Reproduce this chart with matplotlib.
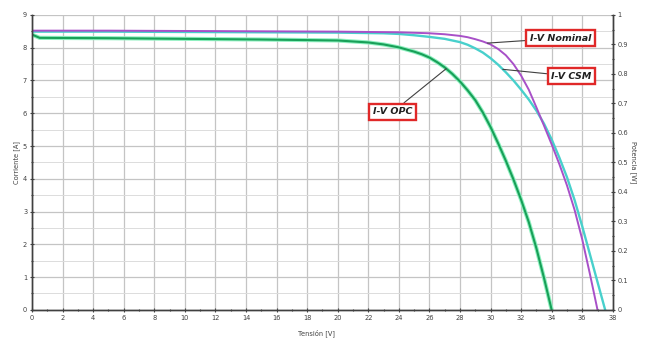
import matplotlib
matplotlib.use("Agg")
import matplotlib.pyplot as plt
from matplotlib.ticker import MultipleLocator

# Data
v_nominal = [0, 5, 10, 15, 20, 24, 26, 27, 28, 28.5, 29, 29.5, 30, 30.5, 31, 31.5,
             32, 32.5, 33, 33.5, 34, 34.5, 35, 35.5, 36, 36.5, 37]
i_nominal = [8.52, 8.52, 8.51, 8.50, 8.49, 8.47, 8.44, 8.41, 8.36, 8.32, 8.26, 8.19,
             8.1, 7.96, 7.77, 7.5, 7.15, 6.72, 6.18, 5.62, 5.05, 4.45, 3.8, 3.05, 2.15, 1.1, 0]

v_csm = [0, 5, 10, 15, 20, 23, 24, 25, 26, 27, 28, 28.5, 29, 29.5, 30, 30.5, 31, 31.5,
         32, 32.5, 33, 33.5, 34, 34.5, 35, 35.5, 36, 36.5, 37, 37.5]
i_csm = [8.49, 8.49, 8.48, 8.47, 8.46, 8.44, 8.42, 8.38, 8.33, 8.27, 8.17, 8.09, 7.98,
         7.85, 7.68, 7.48, 7.25, 7.0, 6.72, 6.42, 6.08, 5.68, 5.2, 4.65, 4.05, 3.35,
         2.55, 1.7, 0.85, 0]

v_opc = [0, 0.5, 5, 10, 15, 20, 22, 23, 24, 25, 25.5, 26, 26.5, 27, 27.5, 28, 28.5,
         29, 29.5, 30, 30.5, 31, 31.5, 32, 32.5, 33, 33.5, 34]
i_opc = [8.4, 8.3, 8.29, 8.27, 8.25, 8.22, 8.16, 8.1, 8.01, 7.88, 7.8, 7.7, 7.56, 7.4,
         7.2, 6.97, 6.7, 6.4, 6.02, 5.58, 5.08, 4.55, 3.98, 3.36, 2.68, 1.88, 0.97, 0]

x_ticks = list(range(0, 39, 2))
y_ticks = list(range(0, 10))
y2_ticks = [0, 0.1, 0.2, 0.3, 0.4, 0.5, 0.6, 0.7, 0.8, 0.9, 1]
y2_labels = ["0", "0.1", "0.2", "0.3", "0.4", "0.5", "0.6", "0.7", "0.8", "0.9", "1"]

fig = plt.figure(figsize=(6.54, 3.47), dpi=100)
ax = fig.add_axes([0.049, 0.107, 0.888, 0.850])

ax.set_xlim(0, 38)
ax.set_ylim(0, 9)
ax.set_xticks(x_ticks)
ax.set_yticks(y_ticks)
ax.xaxis.set_minor_locator(MultipleLocator(1))
ax.yaxis.set_minor_locator(MultipleLocator(0.5))
ax.grid(which="major", color="#c4c4c4", lw=0.9)
ax.grid(which="minor", axis="y", color="#dcdcdc", lw=0.7)
ax.set_axisbelow(True)

for s in ax.spines.values():
    s.set_color("#404040")
    s.set_linewidth(1.0)
ax.spines["top"].set_visible(False)

ax.tick_params(axis="both", which="both", direction="inout", colors="#404040",
               labelsize=4.8, length=3, width=0.8, pad=2)
ax.tick_params(which="minor", length=2)

# Curves
ax.plot(v_opc, i_opc, color="#8ff0c0", lw=3.0, solid_capstyle="round", solid_joinstyle="round")
ax.plot(v_opc, i_opc, color="#18a058", lw=1.5, solid_joinstyle="round")
ax.plot(v_csm, i_csm, color="#48d0cc", lw=1.7, solid_joinstyle="round")
ax.plot(v_nominal, i_nominal, color="#a850c8", lw=1.4, solid_joinstyle="round")

ax.set_xlabel("Tensión [V]", fontsize=4.8, color="#404040", labelpad=1)
ax.xaxis.set_label_coords(0.49, -0.065)
ax.set_ylabel("Corriente [A]", fontsize=4.8, color="#404040", labelpad=2)

ax2 = ax.twinx()
ax2.set_position([0.049, 0.107, 0.888, 0.850])
ax2.set_ylim(0, 1)
ax2.set_yticks(y2_ticks)
ax2.set_yticklabels(y2_labels)
ax2.yaxis.set_minor_locator(MultipleLocator(0.05))
ax2.tick_params(axis="y", which="both", direction="inout", colors="#404040",
                labelsize=4.8, length=3, width=0.8, pad=2)
ax2.tick_params(which="minor", length=2)
for s in ax2.spines.values():
    s.set_color("#404040")
    s.set_linewidth(1.0)
ax2.spines["top"].set_visible(False)
ax2.set_ylabel("Potencia [W]", fontsize=4.8, color="#404040", rotation=270, labelpad=6)

box = dict(boxstyle="square,pad=0.4", fc="white", ec="#e02828", lw=1.7)
arrow = dict(arrowstyle="-", color="#404040", lw=0.8, shrinkA=0, shrinkB=0)
txt = dict(fontsize=6.8, fontweight="bold", fontstyle="italic", color="#202020",
           ha="center", va="center", bbox=box, arrowprops=arrow)

ax.annotate("I-V Nominal", xy=(29.8, 8.14), xytext=(34.6, 8.29), **txt)
ax.annotate("I-V CSM", xy=(30.8, 7.34), xytext=(35.3, 7.13), **txt)
ax.annotate("I-V OPC", xy=(27.1, 7.36), xytext=(23.6, 6.04), **txt)

fig.savefig("out.png", dpi=100)
